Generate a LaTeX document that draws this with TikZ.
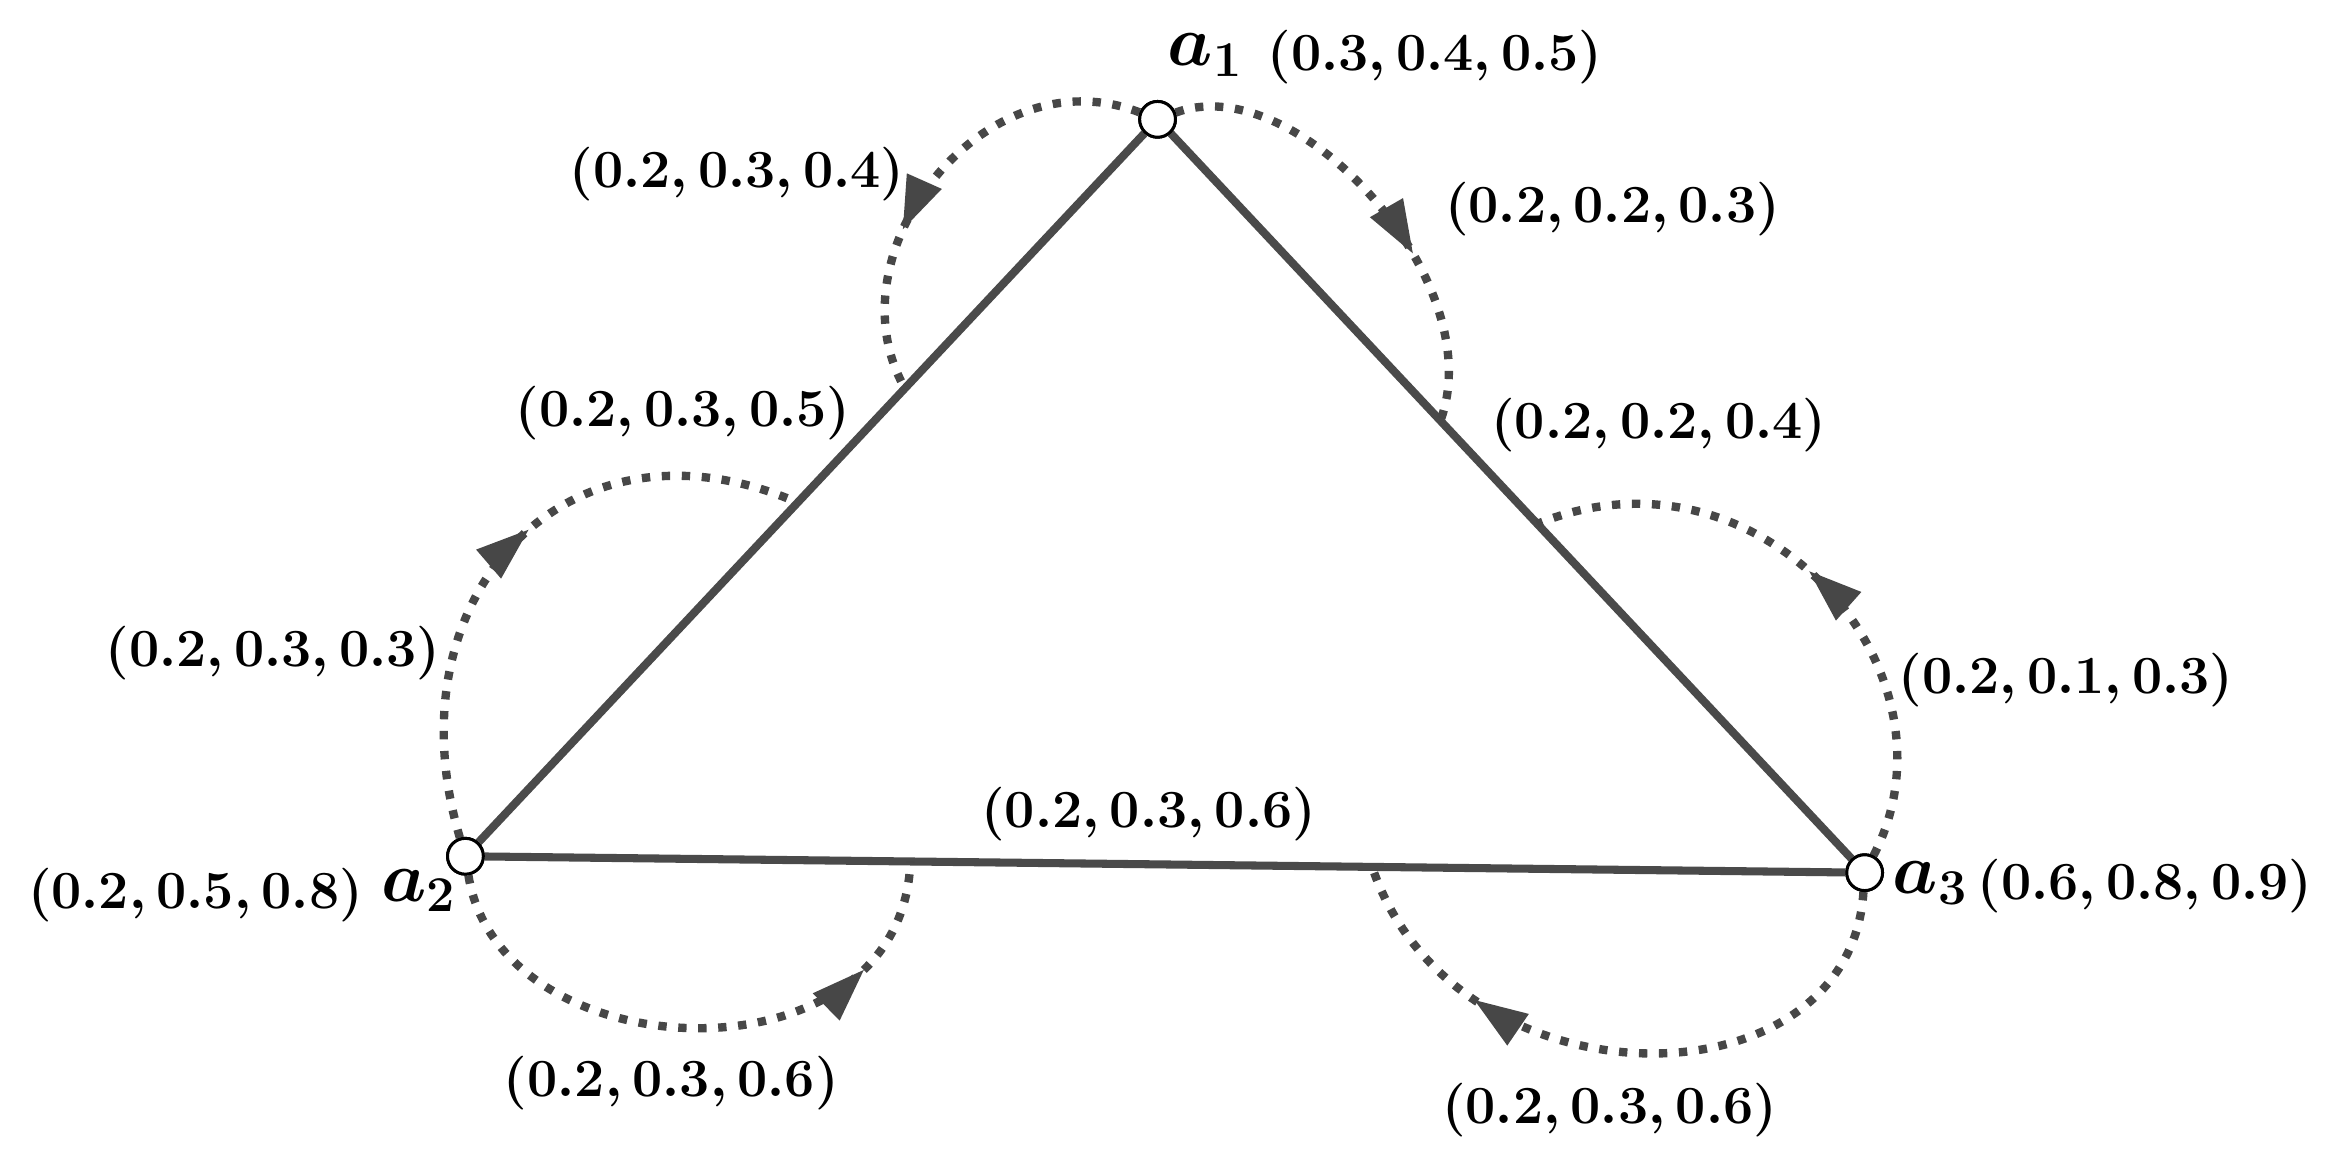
\documentclass[tikz,border=0pt]{standalone}
\usepackage{fix-cm}
\usetikzlibrary{calc,arrows.meta,decorations.markings}
\definecolor{edgegray}{HTML}{4A4A4A}
\definecolor{dotgray}{HTML}{474747}
\tikzset{
  vtx/.style={circle,draw=black,fill=white,line width=1pt,minimum size=12pt,inner sep=0pt},
  edgeline/.style={draw=edgegray,line width=2.7pt},
  dotarc/.style={draw=dotgray,line width=2.8pt,dash pattern=on 2.8pt off 3.9pt},
  arrowat/.style={postaction={decorate},decoration={markings,
      mark=at position #1 with {\arrow{Triangle[length=18pt,width=12pt]}}}},
  lab/.style={inner sep=0pt,font=\fontsize{18}{21}\selectfont\boldmath},
  alab/.style={inner sep=0pt,font=\fontsize{24}{28}\selectfont\boldmath},
}
\begin{document}
\begin{tikzpicture}[x=0.5pt,y=-0.5pt]
\useasboundingbox (0,0) rectangle (1568,787.7);
% vertices
\node[vtx] (a1) at (776,80) {};
\node[vtx] (a2) at (312,574) {};
\node[vtx] (a3) at (1250,585) {};
% points on edges
\coordinate (p1) at ($(a1)!0.365!(a2)$);
\coordinate (p2) at ($(a1)!0.40!(a3)$);
\coordinate (p3) at ($(a1)!0.52!(a2)$);
\coordinate (p4) at ($(a1)!0.537!(a3)$);
\coordinate (p5) at ($(a2)!0.318!(a3)$);
\coordinate (p6) at ($(a2)!0.648!(a3)$);
% edges
\draw[edgeline] (a1) -- (a2);
\draw[edgeline] (a1) -- (a3);
\draw[edgeline] (a2) -- (a3);
% dotted arcs
\draw[dotarc,arrowat=0.64] (a1) .. controls (660,35) and (555,170) .. (p1);
\draw[dotarc,arrowat=0.63] (a1) .. controls (870,45) and (1000,190) .. (p2);
\draw[dotarc,arrowat=0.54] (a2) .. controls (260,400) and (380,270) .. (p3);
\draw[dotarc,arrowat=0.8] (a2) .. controls (335,720) and (605,730) .. (p5);
\draw[dotarc,arrowat=0.52] (a3) .. controls (1320,450) and (1180,290) .. (p4);
\draw[dotarc,arrowat=0.74] (a3) .. controls (1240,745) and (975,745) .. (p6);
% redraw vertices on top
\node[vtx] at (a1) {};
\node[vtx] at (a2) {};
\node[vtx] at (a3) {};
% vertex labels
\node[alab] (l1) at (808,37) {$a_1$};
\node[alab] (l2) at (281,597) {$a_2$};
\node[alab] (l3) at (1294,592) {$a_3$};
% value labels
\node[lab] (t1) at (962,38) {$(0.3,0.4,0.5)$};
\node[lab] (t2) at (494,117) {$(0.2,0.3,0.4)$};
\node[lab] (t3) at (1081,140) {$(0.2,0.2,0.3)$};
\node[lab] (t4) at (458,277) {$(0.2,0.3,0.5)$};
\node[lab] (t5) at (1112,285) {$(0.2,0.2,0.4)$};
\node[lab] (t6) at (183,438) {$(0.2,0.3,0.3)$};
\node[lab] (t7) at (1385,456) {$(0.2,0.1,0.3)$};
\node[lab] (t8) at (770,546) {$(0.2,0.3,0.6)$};
\node[lab] (t9) at (131,600) {$(0.2,0.5,0.8)$};
\node[lab] (t10) at (1438,594) {$(0.6,0.8,0.9)$};
\node[lab] (t11) at (450,726) {$(0.2,0.3,0.6)$};
\node[lab] (t12) at (1079,744) {$(0.2,0.3,0.6)$};
\end{tikzpicture}
\end{document}
